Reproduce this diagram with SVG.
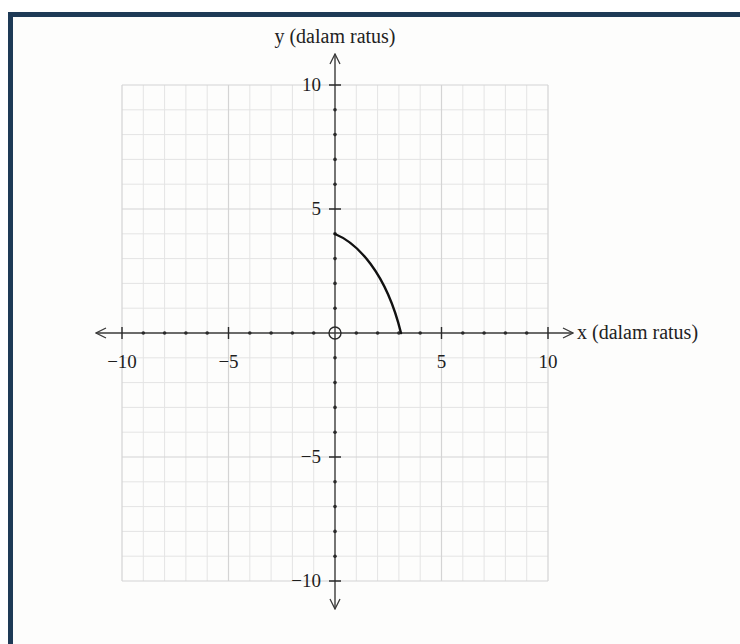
<svg xmlns="http://www.w3.org/2000/svg" width="740" height="644" viewBox="0 0 740 644">
  <style>
    .minor { stroke: #e4e4e4; stroke-width: 1; fill: none; }
    .major { stroke: #d4d4d4; stroke-width: 1.2; fill: none; }
    .axis { stroke: #3a3a3a; stroke-width: 1.4; fill: none; }
    .tick { stroke: #2a2a2a; stroke-width: 1.4; }
    .dot { fill: #2a2a2a; }
    .lbl { font-family: "Liberation Serif", "Times New Roman", serif; font-size: 20px; fill: #222; }
    .num { font-family: "Liberation Serif", "Times New Roman", serif; font-size: 19px; fill: #1e1e1e; }
    .curve { stroke: #111; stroke-width: 2.4; fill: none; stroke-linecap: round; }
  </style>
  <defs>
    <marker id="open" viewBox="0 0 12 12" refX="11" refY="6" markerWidth="12" markerHeight="12" markerUnits="userSpaceOnUse" orient="auto">
      <polyline points="1,1 11,6 1,11" fill="none" stroke="#3a3a3a" stroke-width="1.3"/>
    </marker>
  </defs>
  <rect x="0" y="0" width="740" height="644" fill="#ffffff"/>
  <rect x="10.5" y="14.5" width="800" height="800" fill="#fdfdfc" stroke="#1e3a56" stroke-width="5"/>

  <g id="grid">
    <path class="minor" d="M143.3 85V581M164.6 85V581M185.9 85V581M207.2 85V581M249.8 85V581M271.1 85V581M292.4 85V581M313.7 85V581M356.3 85V581M377.6 85V581M398.9 85V581M420.2 85V581M462.8 85V581M484.1 85V581M505.4 85V581M526.7 85V581
      M122 109.8H548M122 134.6H548M122 159.4H548M122 184.2H548M122 233.8H548M122 258.6H548M122 283.4H548M122 308.2H548M122 357.8H548M122 382.6H548M122 407.4H548M122 432.2H548M122 481.8H548M122 506.6H548M122 531.4H548M122 556.2H548"/>
    <path class="major" d="M122 85V581M228.5 85V581M441.5 85V581M548 85V581M122 85H548M122 209H548M122 457H548M122 581H548"/>
  </g>

  <g id="connectors">
    <line id="x-axis-right" class="axis" x1="335" y1="333" x2="573" y2="333" marker-end="url(#open)"/>
    <line id="x-axis-left" class="axis" x1="335" y1="333" x2="96" y2="333" marker-end="url(#open)"/>
    <line id="y-axis-up" class="axis" x1="335" y1="333" x2="335" y2="54" marker-end="url(#open)"/>
    <line id="y-axis-down" class="axis" x1="335" y1="333" x2="335" y2="609" marker-end="url(#open)"/>
  </g>

  <g id="ticks">
    <g class="dot">
      <circle cx="143.3" cy="333" r="1.8"/><circle cx="164.6" cy="333" r="1.8"/><circle cx="185.9" cy="333" r="1.8"/><circle cx="207.2" cy="333" r="1.8"/>
      <circle cx="249.8" cy="333" r="1.8"/><circle cx="271.1" cy="333" r="1.8"/><circle cx="292.4" cy="333" r="1.8"/><circle cx="313.7" cy="333" r="1.8"/>
      <circle cx="356.3" cy="333" r="1.8"/><circle cx="377.6" cy="333" r="1.8"/><circle cx="398.9" cy="333" r="1.8"/><circle cx="420.2" cy="333" r="1.8"/>
      <circle cx="462.8" cy="333" r="1.8"/><circle cx="484.1" cy="333" r="1.8"/><circle cx="505.4" cy="333" r="1.8"/><circle cx="526.7" cy="333" r="1.8"/>
      <circle cx="335" cy="109.8" r="1.8"/><circle cx="335" cy="134.6" r="1.8"/><circle cx="335" cy="159.4" r="1.8"/><circle cx="335" cy="184.2" r="1.8"/>
      <circle cx="335" cy="233.8" r="1.8"/><circle cx="335" cy="258.6" r="1.8"/><circle cx="335" cy="283.4" r="1.8"/><circle cx="335" cy="308.2" r="1.8"/>
      <circle cx="335" cy="357.8" r="1.8"/><circle cx="335" cy="382.6" r="1.8"/><circle cx="335" cy="407.4" r="1.8"/><circle cx="335" cy="432.2" r="1.8"/>
      <circle cx="335" cy="481.8" r="1.8"/><circle cx="335" cy="506.6" r="1.8"/><circle cx="335" cy="531.4" r="1.8"/><circle cx="335" cy="556.2" r="1.8"/>
    </g>
    <path class="tick" d="M122 327V339M228.5 327V339M441.5 327V339M548 327V339M329 85H341M329 209H341M329 457H341M329 581H341"/>
    <circle cx="335" cy="333" r="6" fill="none" stroke="#2a2a2a" stroke-width="1.4"/>
  </g>

  <g id="curve">
    <path class="curve" d="M335 234 C 357 243, 386 272, 401 333"/>
  </g>

  <g id="labels">
    <text class="lbl" x="335" y="43" text-anchor="middle">y (dalam ratus)</text>
    <text class="lbl" x="577" y="339">x (dalam ratus)</text>
    <text class="num" x="321" y="91" text-anchor="end">10</text>
    <text class="num" x="321" y="215" text-anchor="end">5</text>
    <text class="num" x="321" y="463" text-anchor="end">−5</text>
    <text class="num" x="321" y="587" text-anchor="end">−10</text>
    <text class="num" x="122" y="368" text-anchor="middle">−10</text>
    <text class="num" x="228.5" y="368" text-anchor="middle">−5</text>
    <text class="num" x="441.5" y="368" text-anchor="middle">5</text>
    <text class="num" x="548" y="368" text-anchor="middle">10</text>
  </g>
</svg>
